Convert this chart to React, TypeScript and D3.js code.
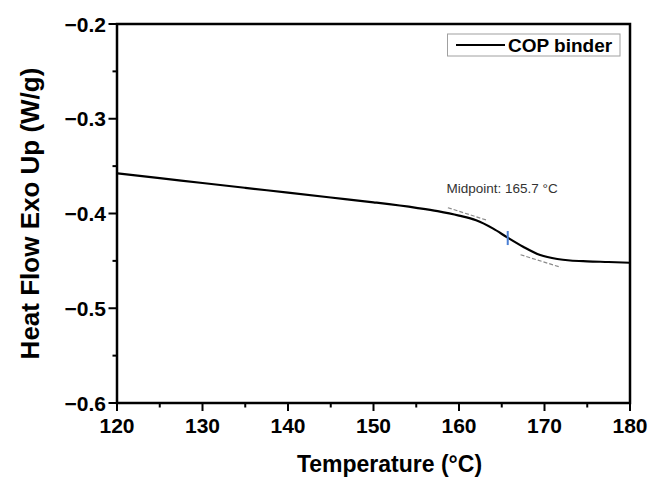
import React from "react";
import * as d3 from "d3";

const temps = [120, 125, 130, 135, 140, 145, 150, 155, 157.5, 160, 162, 164, 165.7, 167.5, 169.5, 171.5, 173, 175, 177.5, 180];
const heatFlow = [-0.3576, -0.3627, -0.3678, -0.3729, -0.378, -0.3831, -0.3882, -0.394, -0.3975, -0.4022, -0.4072, -0.416, -0.4255, -0.435, -0.4438, -0.448, -0.4496, -0.4505, -0.4512, -0.452];

const xTicks = [120, 130, 140, 150, 160, 170, 180];
const xMinor = [125, 135, 145, 155, 165, 175];
const yTicks = [-0.2, -0.3, -0.4, -0.5, -0.6];
const yMinor = [-0.25, -0.35, -0.45, -0.55];

const tangentUpperT = [158.7, 163.2];
const tangentUpperV = [-0.3939, -0.4069];
const tangentLowerT = [167.2, 171.9];
const tangentLowerV = [-0.4435, -0.4568];
const midpointT = 165.7;
const midpointV = [-0.4185, -0.4333];
const seriesName = "COP binder";
const midpointLabel = "Midpoint: 165.7 °C";

const W = 651;
const H = 481;
const L = 117, R = 630, T = 24, B = 403;
const FONT = "'Liberation Sans', Arial, sans-serif";

export default function App() {
  const x = d3.scaleLinear().domain([120, 180]).range([L, R]);
  const y = d3.scaleLinear().domain([-0.6, -0.2]).range([B, T]);
  const line = d3
    .line<number>()
    .x((_, i) => x(temps[i]))
    .y((d) => y(d))
    .curve(d3.curveMonotoneX);
  const fmt = (v: number) => v.toFixed(1).replace("-", "\u2212");

  return (
    <svg
      width={W}
      height={H}
      style={{ position: "absolute", left: 0, top: 0, background: "#fff" }}
      fontFamily={FONT}
    >
      <rect x={0} y={0} width={W} height={H} fill="#fff" />
      {/* data line */}
      <path d={line(heatFlow) || ""} fill="none" stroke="#000" strokeWidth={2.2} />
      {/* tangents */}
      <line
        x1={x(tangentUpperT[0])} y1={y(tangentUpperV[0])}
        x2={x(tangentUpperT[1])} y2={y(tangentUpperV[1])}
        stroke="#8a8a8a" strokeWidth={1.2} strokeDasharray="4,2"
      />
      <line
        x1={x(tangentLowerT[0])} y1={y(tangentLowerV[0])}
        x2={x(tangentLowerT[1])} y2={y(tangentLowerV[1])}
        stroke="#8a8a8a" strokeWidth={1.2} strokeDasharray="4,2"
      />
      <line
        x1={x(midpointT)} y1={y(midpointV[0])}
        x2={x(midpointT)} y2={y(midpointV[1])}
        stroke="#4a7fd4" strokeWidth={2}
      />
      <text x={446.5} y={193} fontSize={13.5} fill="#333">{midpointLabel}</text>

      {/* frame */}
      <rect x={L} y={T} width={R - L} height={B - T} fill="none" stroke="#000" strokeWidth={2.5} />

      {/* x ticks */}
      {xTicks.map((t) => (
        <g key={"xt" + t}>
          <line x1={x(t)} x2={x(t)} y1={B} y2={B + 8} stroke="#000" strokeWidth={2} />
          <text x={x(t)} y={433} textAnchor="middle" fontSize={21} fontWeight="bold">{t}</text>
        </g>
      ))}
      {xMinor.map((t) => (
        <line key={"xm" + t} x1={x(t)} x2={x(t)} y1={B} y2={B + 4.5} stroke="#000" strokeWidth={2} />
      ))}
      {/* y ticks */}
      {yTicks.map((t) => (
        <g key={"yt" + t}>
          <line x1={L - 8.5} x2={L} y1={y(t)} y2={y(t)} stroke="#000" strokeWidth={2} />
          <text x={106} y={y(t) + 7.7} textAnchor="end" fontSize={21} fontWeight="bold">{fmt(t)}</text>
        </g>
      ))}
      {yMinor.map((t) => (
        <line key={"ym" + t} x1={L - 4.5} x2={L} y1={y(t)} y2={y(t)} stroke="#000" strokeWidth={2} />
      ))}

      {/* axis titles */}
      <text x={(L + R) / 2 + 16} y={472} textAnchor="middle" fontSize={23} fontWeight="bold">
        Temperature (°C)
      </text>
      <text
        transform={`translate(39, ${(T + B) / 2}) rotate(-90)`}
        textAnchor="middle"
        fontSize={26}
        fontWeight="bold"
      >
        Heat Flow Exo Up (W/g)
      </text>

      {/* legend */}
      <rect x={447.5} y={34} width={172.5} height={22} fill="#fff" stroke="#a0a0a0" strokeWidth={1} />
      <line x1={456} x2={505} y1={45} y2={45} stroke="#000" strokeWidth={2.2} />
      <text x={508} y={52} fontSize={19} fontWeight="bold">{seriesName}</text>
    </svg>
  );
}
